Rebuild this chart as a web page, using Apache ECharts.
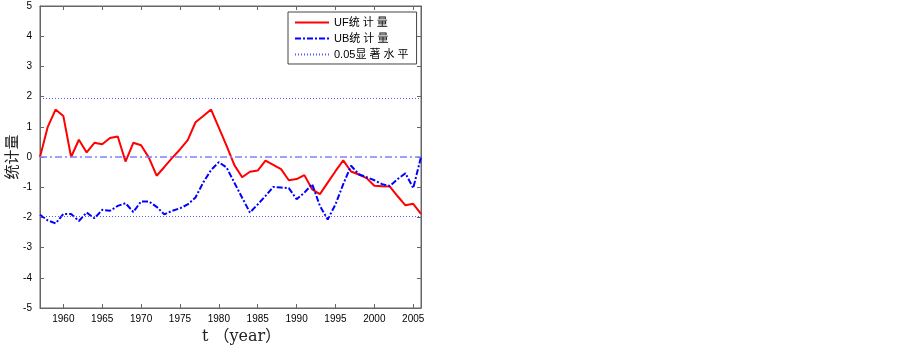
<!DOCTYPE html>
<html lang="zh-CN">
<head>
    <meta charset="UTF-8">
    <title>UF / UB 统计量</title>
    <script src="https://cdn.jsdelivr.net/npm/echarts@6/dist/echarts.min.js"></script>
    <style>
        body, html { margin: 0; padding: 0; background: #fff; }
        #main { width: 903px; height: 345px; }
    </style>
</head>
<body>
    <div id="main"></div>
    <script>
        // 年份 1957-2006
        const years = [];
        for (let y = 1957; y <= 2006; y++) years.push(y);

        const ufValues = [
            0, 1.0, 1.57, 1.36, 0.0, 0.57, 0.15, 0.47, 0.42, 0.63,
            0.68, -0.15, 0.47, 0.39, -0.02, -0.62, -0.33, -0.03, 0.25, 0.56,
            1.15, 1.36, 1.57, 0.97, 0.37, -0.27, -0.67, -0.49, -0.45, -0.12,
            -0.26, -0.4, -0.77, -0.73, -0.6, -1.07, -1.23, -0.85, -0.47, -0.11,
            -0.48, -0.58, -0.7, -0.95, -0.97, -0.98, -1.3, -1.6, -1.55, -1.88
        ];
        const ubValues = [
            -1.91, -2.1, -2.2, -1.89, -1.89, -2.12, -1.84, -2.03, -1.75, -1.78,
            -1.62, -1.53, -1.82, -1.47, -1.47, -1.65, -1.9, -1.78, -1.7, -1.57,
            -1.34, -0.84, -0.43, -0.17, -0.35, -0.85, -1.35, -1.84, -1.57, -1.29,
            -0.99, -1.01, -1.03, -1.4, -1.18, -0.9, -1.62, -2.07, -1.57, -0.9,
            -0.29, -0.57, -0.67, -0.77, -0.9, -0.96, -0.73, -0.54, -1.03, 0.0
        ];
        const sigLevel = 1.96;
        const xTicks = [1960, 1965, 1970, 1975, 1980, 1985, 1990, 1995, 2000, 2005];

        const chart = echarts.init(document.getElementById('main'));

        const tickInside = { inside: true, length: 4, lineStyle: { color: '#666' } };
        const font = 'Liberation Sans, Arial, Noto Sans CJK SC';
        const axisLine = { show: true, onZero: false, lineStyle: { color: '#666' } };

        const option = {
            backgroundColor: '#fff',
            animation: false,
            grid: {
                left: 40, right: 482, top: 6, bottom: 37,
                outerBoundsMode: 'none',
                containLabel: false,
                show: true, borderColor: '#666', borderWidth: 1
            },
            legend: {
                orient: 'vertical',
                left: 288, top: 12,
                width: 130,
                padding: [5, 8, 4, 6],
                itemGap: 5,
                itemWidth: 34,
                itemHeight: 10,
                itemStyle: { opacity: 0 },
                borderColor: '#444', borderWidth: 1,
                backgroundColor: '#fff',
                textStyle: { fontFamily: font, fontSize: 11, color: '#000' },
                data: ['UF统 计 量', 'UB统 计 量', '0.05显 著 水 平']
            },
            xAxis: [{
                type: 'value', min: 1957, max: 2006,
                position: 'bottom',
                name: 't （year）', nameLocation: 'middle', nameGap: 18,
                nameTextStyle: {
                    fontFamily: 'DejaVu Serif, Noto Sans CJK SC', fontSize: 16, color: '#222',
                    padding: [0, 0, 0, 22]
                },
                axisLine: axisLine,
                axisTick: Object.assign({ customValues: xTicks }, tickInside),
                axisLabel: {
                    customValues: xTicks, formatter: v => String(v),
                    fontFamily: font, fontSize: 10, color: '#000', margin: 6
                },
                splitLine: { show: false }
            }, {
                type: 'value', min: 1957, max: 2006,
                position: 'top',
                axisLine: axisLine,
                axisTick: Object.assign({ customValues: xTicks }, tickInside),
                axisLabel: { show: false },
                splitLine: { show: false }
            }],
            yAxis: [{
                type: 'value', min: -5, max: 5, interval: 1,
                position: 'left',
                name: '统计量', nameLocation: 'middle', nameGap: 19,
                nameTextStyle: { fontFamily: 'Noto Sans CJK SC', fontSize: 15, color: '#222' },
                axisLine: axisLine,
                axisTick: tickInside,
                axisLabel: { fontFamily: font, fontSize: 10, color: '#000', margin: 8 },
                splitLine: { show: false }
            }, {
                type: 'value', min: -5, max: 5, interval: 1,
                position: 'right',
                axisLine: axisLine,
                axisTick: tickInside,
                axisLabel: { show: false },
                splitLine: { show: false }
            }],
            series: [
                {
                    name: '0.05显 著 水 平',
                    type: 'line',
                    data: [],
                    symbol: 'none',
                    color: '#5555ff',
                    lineStyle: { color: '#5555ff', width: 1, type: [1, 2] },
                    markLine: {
                        silent: true, symbol: 'none', label: { show: false },
                        lineStyle: { color: '#5555ff', width: 1, type: [1, 2] },
                        data: [{ yAxis: sigLevel }, { yAxis: -sigLevel }]
                    }
                },
                {
                    name: 'zero',
                    type: 'line',
                    data: [],
                    symbol: 'none',
                    color: '#8080ff',
                    markLine: {
                        silent: true, symbol: 'none', label: { show: false },
                        lineStyle: { color: '#8080ff', width: 1.5, type: [7, 3, 2, 3], opacity: 1 },
                        data: [{ yAxis: 0 }]
                    }
                },
                {
                    name: 'UF统 计 量',
                    type: 'line',
                    data: years.map((y, i) => [y, ufValues[i]]),
                    symbol: 'none',
                    color: '#ff0000',
                    lineStyle: { color: '#ff0000', width: 2 }
                },
                {
                    name: 'UB统 计 量',
                    type: 'line',
                    data: years.map((y, i) => [y, ubValues[i]]),
                    symbol: 'none',
                    color: '#0000ff',
                    lineStyle: { color: '#0000ff', width: 2, type: [6, 2, 2, 2] }
                }
            ]
        };

        chart.setOption(option);
    </script>
</body>
</html>
